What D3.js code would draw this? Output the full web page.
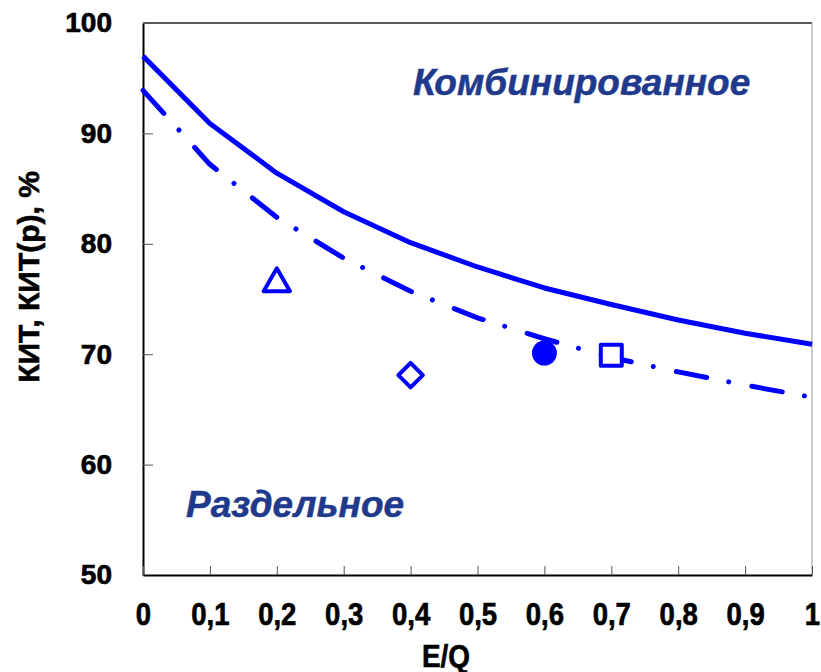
<!DOCTYPE html>
<html>
<head>
<meta charset="utf-8">
<script src="https://cdn.jsdelivr.net/npm/d3@7"></script>
<style>
  body { margin: 0; background: #fff; }
  svg { font-family: "Liberation Sans", Arial, sans-serif; }
  .axis text { font-weight: bold; fill: #000; stroke: #000; stroke-width: 0.7px; }
</style>
</head>
<body>
<div id="chart"></div>
<script>
// data
const eq = [0, 0.1, 0.2, 0.3, 0.4, 0.5, 0.6, 0.7, 0.8, 0.9, 1];
const kitComb = [97.0, 90.9, 86.4, 82.9, 80.1, 77.9, 76.0, 74.5, 73.1, 71.9, 70.9];
const kitSep = [93.9, 87.2, 82.4, 78.7, 75.7, 73.3, 71.4, 69.7, 68.4, 67.2, 66.1];
const pointsX = [0.2, 0.4, 0.6, 0.7];
const pointsY = [76.4, 68.1, 70.1, 69.9];
const pointShapes = ["triangle", "diamond", "circle", "square"];
const xTicks = [0, 0.1, 0.2, 0.3, 0.4, 0.5, 0.6, 0.7, 0.8, 0.9, 1];
const xTickLabels = ["0", "0,1", "0,2", "0,3", "0,4", "0,5", "0,6", "0,7", "0,8", "0,9", "1"];
const yTicks = [50, 60, 70, 80, 90, 100];

const svgWidth = 821, svgHeight = 672;
const margin = {top: 23, right: 9, bottom: 97, left: 143},
      width = svgWidth - margin.left - margin.right,
      height = svgHeight - margin.top - margin.bottom;
const blue = "#0000ff";
const navy = "#1f3a8c";

const svg = d3.select("#chart").append("svg")
  .attr("width", svgWidth)
  .attr("height", svgHeight);

const g = svg.append("g")
  .attr("transform", "translate(" + margin.left + "," + margin.top + ")");

const x = d3.scaleLinear().domain([0, 1]).range([0, width]);
const y = d3.scaleLinear().domain([50, 100]).range([height, 0]);

// frame: top and right
g.append("line").attr("x1", 0).attr("x2", width).attr("y1", 0).attr("y2", 0)
  .attr("stroke", "#222").attr("stroke-width", 1.5);
g.append("line").attr("x1", width).attr("x2", width).attr("y1", 0).attr("y2", height)
  .attr("stroke", "#999").attr("stroke-width", 1);

// axes
const yAxis = g.append("g")
  .attr("class", "axis")
  .call(d3.axisLeft(y).tickValues(yTicks).tickSizeInner(-10).tickSizeOuter(0).tickPadding(31));
yAxis.selectAll("text").style("font-size", "28px");

const xAxis = g.append("g")
  .attr("class", "axis")
  .attr("transform", "translate(0," + height + ")")
  .call(d3.axisBottom(x).tickValues(xTicks).tickFormat((d, i) => xTickLabels[i])
    .tickSizeInner(-9).tickSizeOuter(0).tickPadding(27));
xAxis.selectAll("text")
  .style("font-size", "32px")
  .attr("transform", "scale(0.86,1)");

g.selectAll(".axis .domain").attr("stroke", "#000").attr("stroke-width", 2);
g.selectAll(".axis .tick line").attr("stroke", "#555").attr("stroke-width", 1);

// axis titles
svg.append("text")
  .attr("transform", "translate(39,277) rotate(-90)")
  .attr("text-anchor", "middle")
  .style("font-size", "30px")
  .style("font-weight", "bold")
  .attr("stroke", "#000")
  .attr("stroke-width", 0.6)
  .text("КИТ, КИТ(р), %");

svg.append("text")
  .attr("x", 446)
  .attr("y", 667)
  .attr("text-anchor", "middle")
  .attr("transform", "translate(446,0) scale(0.9,1) translate(-446,0)")
  .style("font-size", "31px")
  .style("font-weight", "bold")
  .attr("stroke", "#000")
  .attr("stroke-width", 0.6)
  .text("E/Q");

// lines
const line = d3.line()
  .x((d, i) => x(eq[i]))
  .y(d => y(d));

g.append("path")
  .datum(kitComb)
  .attr("d", line)
  .attr("fill", "none")
  .attr("stroke", blue)
  .attr("stroke-width", 5)
  .attr("stroke-linejoin", "round");

g.append("path")
  .datum(kitSep)
  .attr("d", line)
  .attr("fill", "none")
  .attr("stroke", blue)
  .attr("stroke-width", 5)
  .attr("stroke-linecap", "round")
  .attr("stroke-dasharray", "31,22.5,0.01,23.5");

// markers
const symbolType = {
  triangle: d3.symbolTriangle,
  diamond: d3.symbolSquare,
  circle: d3.symbolCircle,
  square: d3.symbolSquare
};
const symbolSize = {triangle: 300, diamond: 300, circle: 490, square: 440};

pointsX.forEach(function(px, i) {
  const shape = pointShapes[i];
  const filled = shape === "circle";
  g.append("path")
    .attr("d", d3.symbol().type(symbolType[shape]).size(symbolSize[shape])())
    .attr("transform", "translate(" + x(px) + "," + y(pointsY[i]) + ")" + (shape === "diamond" ? " rotate(45)" : ""))
    .attr("fill", filled ? blue : "#fff")
    .attr("stroke", blue)
    .attr("stroke-width", filled ? 0 : 4)
    .attr("stroke-linejoin", "round");
});

// region labels
g.append("text")
  .attr("x", 413 - margin.left)
  .attr("y", 95 - margin.top)
  .style("font-size", "37px")
  .style("font-weight", "bold")
  .style("font-style", "italic")
  .attr("fill", navy)
  .attr("stroke", navy)
  .attr("stroke-width", 0.5)
  .text("Комбинированное");

g.append("text")
  .attr("x", 186 - margin.left)
  .attr("y", 517 - margin.top)
  .style("font-size", "37px")
  .style("font-weight", "bold")
  .style("font-style", "italic")
  .attr("fill", navy)
  .attr("stroke", navy)
  .attr("stroke-width", 0.5)
  .text("Раздельное");
</script>
</body>
</html>
